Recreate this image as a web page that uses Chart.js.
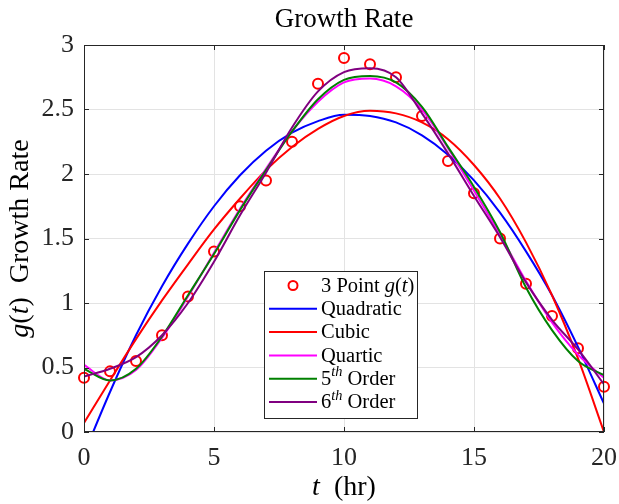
<!DOCTYPE html>
<html>
<head>
<meta charset="utf-8">
<script src="https://cdn.jsdelivr.net/npm/chart.js@4.4.1/dist/chart.umd.min.js"></script>
<style>
  html, body { margin: 0; padding: 0; background: #fff; }
  #wrap { width: 619px; height: 504px; }
</style>
</head>
<body>
<div id="wrap"><canvas id="c" width="619" height="504"></canvas></div>
<script>
// measured growth rate, 3 point estimate
const tPoints = [0, 1, 2, 3, 4, 5, 6, 7, 8, 9, 10, 11, 12, 13, 14, 15, 16, 17, 18, 19, 20];
const gPoints = [0.42, 0.47, 0.55, 0.75, 1.05, 1.40, 1.75, 1.95, 2.25, 2.70, 2.90, 2.85, 2.75, 2.45, 2.10, 1.85, 1.50, 1.15, 0.90, 0.65, 0.35];

// fitted curves at each hour
const tFit = [0, 1, 2, 3, 4, 5, 6, 7, 8, 9, 10, 11, 12, 13, 14, 15, 16, 17, 18, 19, 20];
const quadFit = [-0.17, 0.31, 0.75, 1.13, 1.46, 1.75, 1.99, 2.18, 2.32, 2.41, 2.46, 2.45, 2.40, 2.30, 2.15, 1.95, 1.70, 1.40, 1.06, 0.66, 0.22];
const cubicFit = [0.07, 0.40, 0.72, 1.02, 1.30, 1.57, 1.81, 2.03, 2.21, 2.35, 2.45, 2.49, 2.47, 2.40, 2.27, 2.07, 1.81, 1.47, 1.06, 0.57, 0.00];
const quarticFit = [0.52, 0.40, 0.48, 0.73, 1.05, 1.39, 1.73, 2.04, 2.33, 2.56, 2.71, 2.74, 2.68, 2.50, 2.20, 1.87, 1.53, 1.17, 0.85, 0.60, 0.42];
const fifthFit = [0.49, 0.40, 0.49, 0.74, 1.06, 1.38, 1.72, 2.03, 2.33, 2.58, 2.73, 2.76, 2.71, 2.52, 2.21, 1.90, 1.55, 1.12, 0.79, 0.55, 0.44];
const sixthFit = [0.43, 0.49, 0.58, 0.75, 1.00, 1.32, 1.68, 2.01, 2.36, 2.64, 2.79, 2.82, 2.75, 2.47, 2.16, 1.83, 1.51, 1.16, 0.87, 0.64, 0.37];

const xTicks = [0, 5, 10, 15, 20];
const yTicks = [0, 0.5, 1, 1.5, 2, 2.5, 3];

const SERIF = '"Liberation Serif", "DejaVu Serif", serif';
const AXIS = '#262626';

function pts(xs, ys) {
  return xs.map((x, i) => ({ x: x, y: ys[i] }));
}

function fitLine(label, ys, color, order) {
  return {
    label: label,
    data: pts(tFit, ys),
    borderColor: color,
    backgroundColor: color,
    borderWidth: 2,
    pointRadius: 0,
    cubicInterpolationMode: 'monotone',
    clip: 0,
    order: order
  };
}

// draw a run of [text, italic, sizeScale, dy] pieces
function drawRuns(ctx, runs, x, y, size) {
  let cx = x;
  runs.forEach(r => {
    const s = size * (r[2] || 1);
    ctx.font = (r[1] ? 'italic ' : '') + s + 'px ' + SERIF;
    ctx.fillText(r[0], cx, y + (r[3] || 0));
    cx += ctx.measureText(r[0]).width;
  });
  return cx - x;
}

function runsWidth(ctx, runs, size) {
  let w = 0;
  runs.forEach(r => {
    ctx.font = (r[1] ? 'italic ' : '') + size * (r[2] || 1) + 'px ' + SERIF;
    w += ctx.measureText(r[0]).width;
  });
  return w;
}

const legendRows = [
  { kind: 'marker', color: '#ff0000', runs: [['3 Point ', false], ['g', true], ['(', false], ['t', true], [')', false]] },
  { kind: 'line', color: '#0000ff', runs: [['Quadratic', false]] },
  { kind: 'line', color: '#ff0000', runs: [['Cubic', false]] },
  { kind: 'line', color: '#ff00ff', runs: [['Quartic', false]] },
  { kind: 'line', color: '#008000', runs: [['5', false], ['th', true, 0.7, -7], [' Order', false]] },
  { kind: 'line', color: '#800080', runs: [['6', false], ['th', true, 0.7, -7], [' Order', false]] }
];

const decor = {
  id: 'decor',
  afterDraw(chart) {
    const ctx = chart.ctx;
    const a = chart.chartArea;
    const xs = chart.scales.x, ys = chart.scales.y;
    ctx.save();

    // box + inward ticks
    ctx.strokeStyle = AXIS;
    ctx.lineWidth = 1;
    ctx.strokeRect(a.left + 0.5, a.top + 0.5, a.right - a.left - 1, a.bottom - a.top - 1);
    ctx.beginPath();
    xTicks.forEach(v => {
      const px = Math.round(xs.getPixelForValue(v)) + 0.5;
      ctx.moveTo(px, a.bottom); ctx.lineTo(px, a.bottom - 5);
      ctx.moveTo(px, a.top); ctx.lineTo(px, a.top + 5);
    });
    yTicks.forEach(v => {
      const py = Math.round(ys.getPixelForValue(v)) + 0.5;
      ctx.moveTo(a.left, py); ctx.lineTo(a.left + 5, py);
      ctx.moveTo(a.right, py); ctx.lineTo(a.right - 5, py);
    });
    ctx.stroke();

    ctx.fillStyle = '#000';
    ctx.textBaseline = 'middle';

    // title
    ctx.font = '27px ' + SERIF;
    ctx.textAlign = 'center';
    ctx.fillText('Growth Rate', (a.left + a.right) / 2, 20);

    // x label
    ctx.textAlign = 'left';
    const xl = [['t', true], ['  (hr)', false]];
    const xw = runsWidth(ctx, xl, 28);
    drawRuns(ctx, xl, (a.left + a.right) / 2 - xw / 2, 488, 28);

    // y label
    ctx.save();
    ctx.translate(21, (a.top + a.bottom) / 2);
    ctx.rotate(-Math.PI / 2);
    const yl = [['g', true], ['(', false], ['t', true], [')', false], ['  Growth Rate', false]];
    const yw = runsWidth(ctx, yl, 28);
    drawRuns(ctx, yl, -yw / 2, 0, 28);
    ctx.restore();

    // legend
    const L = { x: 264.5, y: 271.5, w: 153, h: 147 };
    ctx.fillStyle = '#fff';
    ctx.fillRect(L.x, L.y, L.w, L.h);
    ctx.strokeStyle = AXIS;
    ctx.strokeRect(L.x, L.y, L.w, L.h);
    legendRows.forEach((row, i) => {
      const ry = 285.5 + i * 23.3;
      if (row.kind === 'marker') {
        ctx.beginPath();
        ctx.strokeStyle = row.color;
        ctx.lineWidth = 2;
        ctx.arc(293, ry, 4.5, 0, Math.PI * 2);
        ctx.stroke();
      } else {
        ctx.beginPath();
        ctx.strokeStyle = row.color;
        ctx.lineWidth = 2;
        ctx.moveTo(269, ry); ctx.lineTo(317, ry);
        ctx.stroke();
      }
      ctx.fillStyle = '#000';
      drawRuns(ctx, row.runs, 321, ry + 1, 20.5);
    });

    ctx.restore();
  }
};

new Chart(document.getElementById('c'), {
  type: 'line',
  data: {
    datasets: [
      {
        label: '3 Point g(t)',
        data: pts(tPoints, gPoints),
        showLine: false,
        pointStyle: 'circle',
        pointRadius: 5,
        pointBorderWidth: 2,
        borderColor: '#ff0000',
        backgroundColor: 'rgba(0,0,0,0)',
        clip: false,
        order: 6
      },
      fitLine('Quadratic', quadFit, '#0000ff', 5),
      fitLine('Cubic', cubicFit, '#ff0000', 4),
      fitLine('Quartic', quarticFit, '#ff00ff', 3),
      fitLine('5th Order', fifthFit, '#008000', 2),
      fitLine('6th Order', sixthFit, '#800080', 1)
    ]
  },
  options: {
    responsive: false,
    animation: false,
    layout: { padding: { top: 45, right: 15, left: 0, bottom: 0 } },
    plugins: {
      legend: { display: false },
      title: { display: false },
      tooltip: { enabled: false }
    },
    scales: {
      x: {
        type: 'linear',
        min: 0, max: 20,
        afterBuildTicks: s => { s.ticks = xTicks.map(v => ({ value: v })); },
        afterFit: s => { s.height = 72; s.paddingLeft = 0; s.paddingRight = 0; },
        border: { display: false },
        grid: { color: '#e3e3e3', drawTicks: false },
        ticks: { color: '#262626', padding: 11, font: { family: SERIF, size: 26 }, callback: v => String(v) }
      },
      y: {
        min: 0, max: 3,
        afterBuildTicks: s => { s.ticks = yTicks.map(v => ({ value: v })); },
        afterFit: s => { s.width = 84; s.paddingTop = 0; s.paddingBottom = 0; },
        border: { display: false },
        grid: { color: '#e3e3e3', drawTicks: false },
        ticks: { color: '#262626', padding: 10, font: { family: SERIF, size: 26 }, callback: v => String(v) }
      }
    }
  },
  plugins: [decor]
});
</script>
</body>
</html>
